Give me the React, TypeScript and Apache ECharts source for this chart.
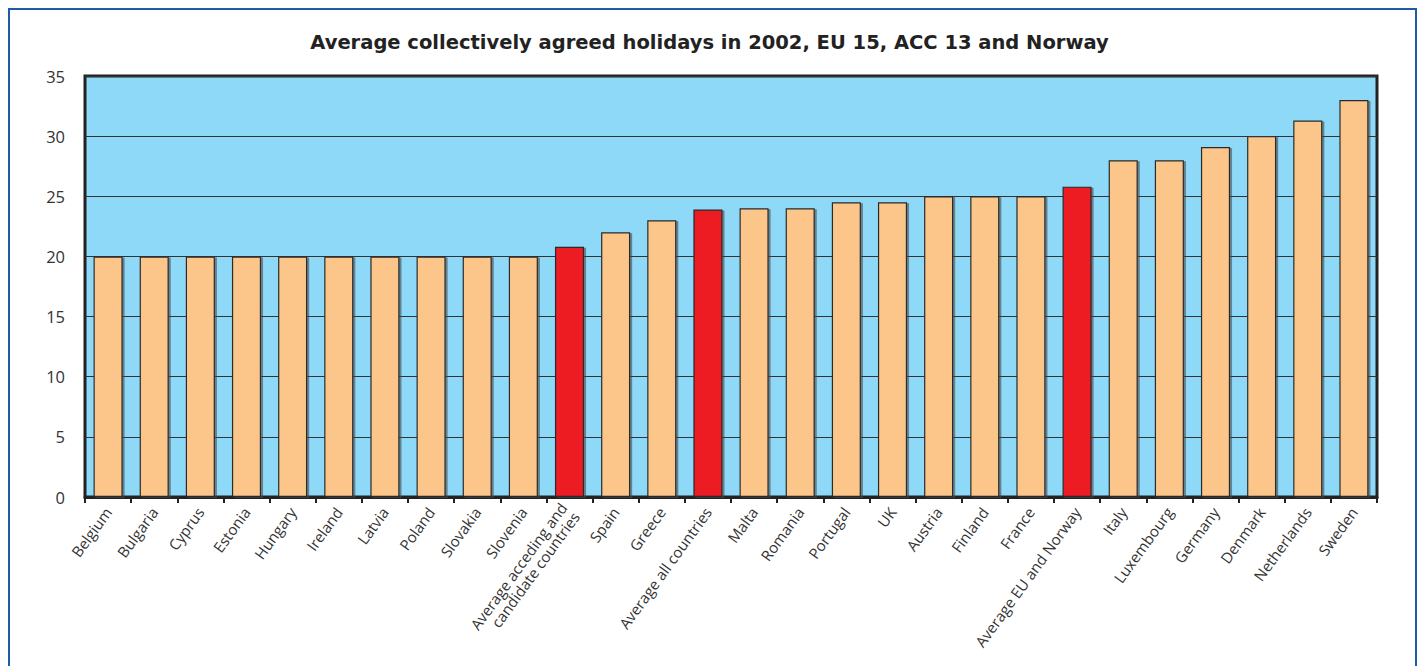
import React, { useEffect, useRef } from "react";
import * as echarts from "echarts";

const TITLE = "Average collectively agreed holidays in 2002, EU 15, ACC 13 and Norway";

const categories = [
  "Belgium", "Bulgaria", "Cyprus", "Estonia", "Hungary", "Ireland", "Latvia", "Poland",
  "Slovakia", "Slovenia", "Average acceding and\ncandidate countries", "Spain", "Greece",
  "Average all countries", "Malta", "Romania", "Portugal", "UK", "Austria", "Finland",
  "France", "Average EU and Norway", "Italy", "Luxembourg", "Germany", "Denmark",
  "Netherlands", "Sweden",
];

const values = [
  20, 20, 20, 20, 20, 20, 20, 20,
  20, 20, 20.8, 22, 23,
  23.9, 24, 24, 24.5, 24.5, 25, 25,
  25, 25.8, 28, 28, 29.1, 30,
  31.3, 33,
];

const averageCategories = [
  "Average acceding and\ncandidate countries",
  "Average all countries",
  "Average EU and Norway",
];

const yTicks = { min: 0, max: 35, interval: 5 };

const COUNTRY_COLOR = "#fcc68a";
const AVERAGE_COLOR = "#ed1c24";
const PLOT_BG = "#8ed8f8";

export default function App() {
  const ref = useRef<HTMLDivElement>(null);

  useEffect(() => {
    if (!ref.current) return;
    const chart = echarts.init(ref.current, undefined, { renderer: "svg" });
    const data = categories.map((c, i) => ({
      value: values[i],
      itemStyle: {
        color: averageCategories.includes(c) ? AVERAGE_COLOR : COUNTRY_COLOR,
      },
    }));
    chart.setOption({
      animation: false,
      backgroundColor: "#ffffff",
      title: {
        text: TITLE,
        left: "center",
        top: 27,
        textStyle: {
          fontFamily: "DejaVu Sans",
          fontSize: 19.5,
          fontWeight: "bold",
          color: "#222222",
        },
      },
      graphic: [
        {
          type: "rect",
          shape: { x: 9, y: 9, width: 1407, height: 700 },
          style: { fill: "none", stroke: "#1d5ba6", lineWidth: 2 },
          silent: true,
          z: 100,
        },
      ],
      grid: {
        left: 85,
        right: 42,
        top: 76,
        bottom: 169,
        show: true,
        backgroundColor: PLOT_BG,
        borderColor: "#222222",
        borderWidth: 3,
        z: 0,
      },
      xAxis: {
        type: "category",
        data: categories,
        boundaryGap: true,
        axisLine: { show: true, lineStyle: { color: "#222222", width: 3 } },
        axisTick: { show: true, length: 6, lineStyle: { color: "#222222", width: 2 } },
        axisLabel: {
          rotate: 54,
          interval: 0,
          margin: 12,
          fontFamily: "Open Sans",
          fontSize: 15,
          color: "#333333",
          lineHeight: 15.5,
        },
      },
      yAxis: {
        type: "value",
        min: yTicks.min,
        max: yTicks.max,
        interval: yTicks.interval,
        axisLine: { show: false },
        axisTick: { show: false },
        axisLabel: {
          margin: 20,
          fontFamily: "Open Sans",
          fontSize: 16.5,
          color: "#333333",
        },
        splitLine: { show: true, lineStyle: { color: "#333333", width: 1.2 } },
      },
      series: [
        {
          type: "bar",
          data,
          barCategoryGap: "37%",
          itemStyle: {
            borderColor: "#2a2a2a",
            borderWidth: 1.2,
            shadowColor: "rgba(70,70,70,0.6)",
            shadowOffsetX: 2,
            shadowOffsetY: 1,
            shadowBlur: 0,
          },
        },
      ],
    });
    return () => chart.dispose();
  }, []);

  return (
    <div
      ref={ref}
      style={{ position: "fixed", left: 0, top: 0, width: 1419, height: 666 }}
    />
  );
}
